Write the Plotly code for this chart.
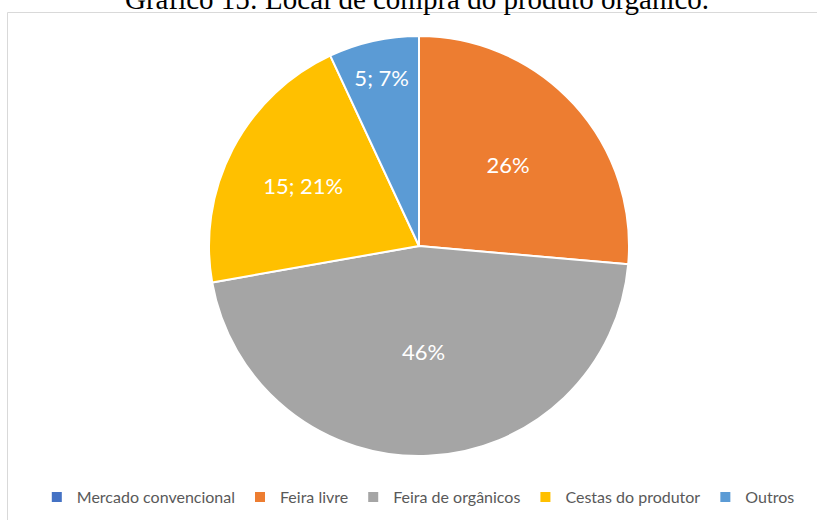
import plotly.graph_objects as go

# Purchase location of organic products
categories = ["Mercado convencional", "Feira livre", "Feira de orgânicos",
              "Cestas do produtor", "Outros"]
counts = [0, 19, 33, 15, 5]
slice_colors = ["#4472C4", "#ED7D31", "#A5A5A5", "#FFC000", "#5B9BD5"]
label_formats = ["", "%{percent:.0%}", "%{percent:.0%}",
                 "%{value}; %{percent:.0%}", "%{value}; %{percent:.0%}"]
title_text = "Gráfico 15: Local de compra do produto orgânico."

W, H = 817, 520

fig = go.Figure(go.Pie(
    labels=categories,
    values=counts,
    sort=False,
    direction="clockwise",
    rotation=0,
    marker=dict(colors=slice_colors, line=dict(color="white", width=2)),
    texttemplate=label_formats,
    textposition="inside",
    insidetextorientation="horizontal",
    textfont=dict(family="Lato", size=22, color="white"),
    domain=dict(x=[(419 - 300) / W, (419 + 300) / W],
                y=[(H - 456) / H, (H - 36) / H]),
    showlegend=True,
    hoverinfo="label+value+percent",
))

# chart-area frame
fig.add_shape(type="rect", xref="paper", yref="paper",
              x0=7.5 / W, x1=1.02, y0=-0.02, y1=1 - 12.5 / H,
              line=dict(color="#D9D9D9", width=1), fillcolor="rgba(0,0,0,0)",
              layer="below")

# caption above the chart
fig.add_annotation(text=title_text, xref="paper", yref="paper",
                   x=417 / W, y=1 + 1 / H, xanchor="center", yanchor="middle",
                   showarrow=False,
                   font=dict(family="Liberation Serif", size=29, color="#000000"))

fig.update_layout(
    width=W, height=H,
    margin=dict(l=0, r=0, t=0, b=0),
    paper_bgcolor="white",
    plot_bgcolor="white",
    legend=dict(orientation="h", x=0.512, xanchor="center", y=(H - 497) / H,
                yanchor="middle", font=dict(family="Lato", size=16, color="#595959"),
                itemclick=False, traceorder="normal"),
)

fig.write_html("out.html")
